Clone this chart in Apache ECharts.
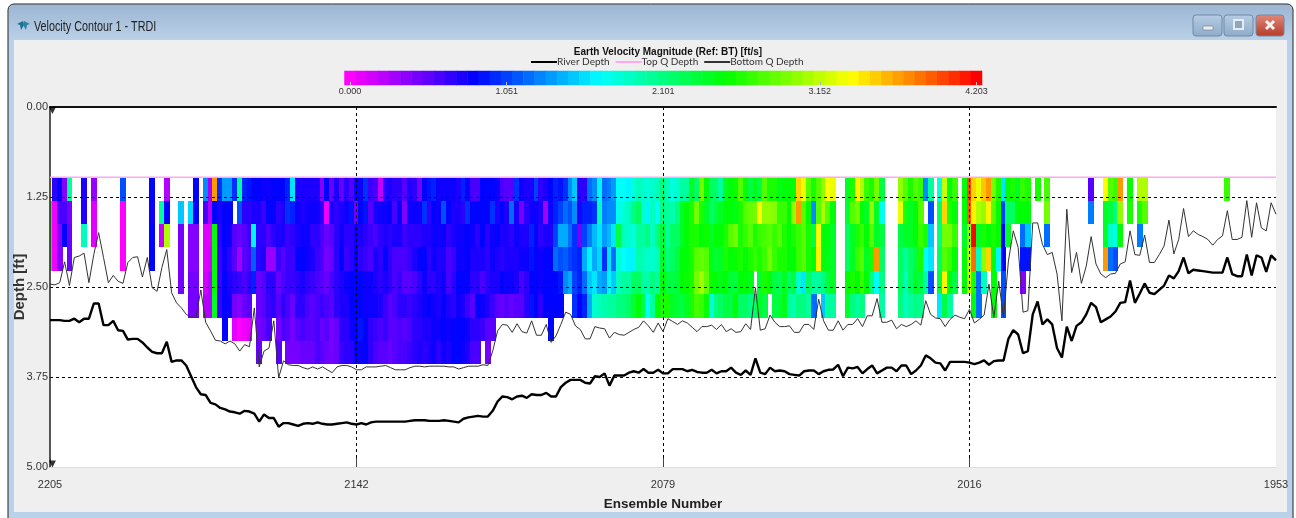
<!DOCTYPE html>
<html><head><meta charset="utf-8">
<style>html,body{margin:0;padding:0;background:#fff}#c{width:1296px;height:518px}</style>
<script src="https://cdn.jsdelivr.net/npm/echarts@6/dist/echarts.min.js"></script>
</head><body><div id="c"></div>
<script>
const n = null;
const startEnsemble = 2205;
const depthTicks = ['0.00','1.25','2.50','3.75','5.00'];
const ensembleTicks = [2205,2142,2079,2016];
const binTops = [0.975,1.3,1.625,1.95,2.275,2.6,2.925,3.25];
const binHeight = 0.325;
const topQ = [0.975,0.975];

const row0 = [3.36,.7,.85,.4,2,n,n,.75,n,.35,n,n,n,n,n,1.1,n,n,n,n,n,.85,n,n,.25,n,n,n,n,n,.85,n,1.3,.3,3.7,1,1.35,1.35,1,2,.95,.9,.85,.85,.8,.8,.85,.85,.85,.95,1.6,
.75,.75,.75,.75,.75,.4,.85,.5,.75,.5,.7,.55,.8,.8,1,.65,.6,.2,.7,.75,.7,.7,.55,.75,.7,.45,.85,.9,.95,.8,.8,.8,.8,.75,.95,.85,.6,.6,.85,.85,.85,.8,.6,.55,.55,1,.8,.75,.75,1.05,
.7,.75,.85,.95,.9,1,1.3,1.5,.7,.7,1.2,1.3,1.65,1.2,1.25,1.35,1.7,1.7,1.65,1.8,1.9,1.85,1.8,1.85,1.9,2.1,1.9,1.8,1.85,2,2,2.4,2.2,2.9,2.5,2.2,2.2,2,2.4,2.5,2.55,2.8,2.55,2.3,2.45,2.3,2.8,2.6,2.6,2.45,2.5,
2.5,2.5,3.5,3.3,2.8,2.6,2.8,3,3.35,3.3,n,n,2.4,2.6,3.4,3.1,2.7,2.6,2.9,2.3,n,n,n,3,2.8,2.6,2.8,2.7,1.3,2,n,1.8,3.2,2.5,2.7,n,2.5,3.95,3.5,3.3,3.55,3.7,2.9,2.6,1.6,2.5,2.6,2.4,2.7,2.6,
n,2.6,n,2.75,n,n,n,n,n,n,n,n,.55,n,n,3.35,2.8,2.7,3.7,n,2.55,n,3.1,3.1,n,n,n,n,n,n,n,n,n,n,n,n,n,n,n,n,2.7];

const row1 = [2.5,.05,.6,.6,.45,n,n,.75,n,.1,n,n,n,n,n,0,n,n,n,n,n,.8,n,2,.85,n,n,1.5,n,1.55,.85,n,.6,.25,.85,.75,.85,.85,n,1.1,.7,.7,.75,.75,.65,.85,.85,.7,.75,1,.95,
.8,.75,.8,.8,.8,.7,.05,.75,.7,.75,.8,.9,.45,.85,.9,.55,.75,.8,.8,.85,.6,.85,.4,.8,.8,.8,1,.7,.85,.8,1.1,.85,.75,.75,.7,1,.85,.85,.85,.85,1,.75,.85,.75,1.2,.75,.45,.7,.8,.8,
.75,.3,.8,.95,1.05,1.2,1.1,1.3,.75,.95,.95,1,1.9,1.25,1.3,1.3,1.75,1.8,1.9,2.1,2.2,1.85,1.65,1.9,1.7,2.1,2,1.95,2.1,2.4,2.5,2.6,2.9,2.6,2.4,2.2,2.3,2.4,2.5,2.5,2.45,2.6,2.8,2.85,2.9,3.35,3,3,2.95,2.7,2.7,
2.5,3,3.7,2.8,2.5,1.3,2.8,3.1,2.8,2.5,n,n,2.35,2.8,2.9,2.5,2.4,3,2.4,1.7,n,n,n,3.3,2.6,2.4,2.5,2.8,n,1.1,n,2.2,3.5,2.6,2.5,n,2.5,3.9,3.4,3.1,3,3.4,2.8,2.5,1.05,2.2,2.2,2.5,2.5,2.5,
n,n,n,2.9,n,n,n,n,n,n,n,n,1.25,n,n,2.4,2.3,2.1,3,n,2.6,n,2.6,2.8];

const row2 = [2.5,.05,.4,.85,.5,n,n,1.9,n,.1,n,n,n,n,n,0,n,n,n,n,n,.85,n,.2,3.1,n,n,.45,n,.4,.4,n,.1,.1,2.5,.7,.85,.8,.55,.5,.55,.65,1.65,.7,.7,.6,.7,.75,.75,.65,.7,
.75,.8,.8,.7,.7,.6,.5,.55,.7,.8,.7,.7,.8,.75,.7,.65,.6,.7,.75,.7,.75,.75,.65,.7,.7,.7,.75,.75,.8,.8,.8,.7,.75,.8,.8,.85,.8,.7,.85,.7,.8,.85,.75,.75,.7,.8,.75,.75,.95,.85,
.7,.75,.75,1.05,1.4,1.4,1.2,1,.45,1.05,1.25,1.45,1.6,1.35,1.45,1.6,2.3,1.9,1.85,1.8,2,2,2.1,1.9,2.1,2.35,2,2.2,2.2,2.4,2.5,2.6,2.6,2.5,2.55,2.4,2.5,2.5,2.6,2.8,2.9,2.6,2.7,2.8,2.6,2.7,2.75,2.8,2.7,2.8,2.6,
2.5,2.6,2.7,2.8,2.6,2.3,3.35,2.5,2.5,2.4,n,n,2.2,2.4,2.6,2.7,2.5,2.8,2.4,2.3,n,n,n,2.3,2.4,2.4,2.5,2.7,2.6,1.5,n,2.1,2.9,2.9,2.7,n,2.4,3,4.2,2.4,2.6,2.5,2.6,2.5,.85,2.4,n,n,1.2,1.5,
n,n,n,1.2,n,n,n,n,n,n,n,n,n,n,n,2.4,1.85,1.75,2.5,n,n,n,1.25];

const row3 = [2.5,.05,.4,n,.5,n,n,n,n,n,n,n,n,n,n,0,n,n,n,n,n,.85,n,n,n,n,n,.45,n,.4,.4,n,.1,.15,2.5,.65,.8,.7,.55,.3,.55,.6,1.15,.7,.75,.35,.35,.65,.55,.65,.65,
.85,.85,.8,.75,.65,.6,.45,.5,.7,.85,.65,.7,.85,.7,.65,.6,.75,.7,.85,.7,.6,.6,.6,.65,.75,.85,.85,.7,.8,.75,.75,.6,.65,.8,.8,.85,.75,.75,.75,.7,.8,.75,.7,.75,.75,.75,.8,.8,.9,.85,
.8,.85,.85,1.2,1.1,1.15,1.05,1,.95,1.4,1.65,1.4,1.55,1,1.6,1.2,1.8,1.7,1.65,1.65,1.95,1.9,1.85,1.85,1.9,2.4,2.1,2.2,2.3,2.5,2.5,2.6,2.8,2.85,2.8,2.45,2.35,2.4,2.6,2.5,2.55,2.6,2.5,2.6,2.7,2.6,2.7,2.9,2.7,2.6,2.6,
2.5,2.5,2.7,2.8,2.6,2.5,3.4,2.5,2.45,2.4,n,n,2.2,2.4,2.7,2.8,2.4,2.6,3.7,2.2,n,n,n,2.2,2,2.2,2.3,2.6,1.7,1.6,n,2.2,2.8,2.7,2.5,n,2.5,3.2,3.85,1.9,3,3.5,2.5,1.65,.85,n,n,n,.9,.9,
n,n,n,n,n,n,n,n,n,n,n,n,n,n,n,3.7,1.2,1.1];

const row4 = [n,n,n,n,n,n,n,n,n,n,n,n,n,n,n,n,n,n,n,n,n,n,n,n,n,n,n,.45,n,.45,.45,n,.15,.25,2.5,.65,.85,.75,.7,.65,.6,.7,.95,.5,.55,.7,.7,.5,.6,.65,.65,
.7,.75,.7,.65,.6,.55,.5,.6,.7,.75,.8,.85,.85,.85,.8,.8,.75,.7,.75,.7,.6,.65,.55,.55,.6,.7,.8,.7,.7,.75,.8,.6,.7,.85,.85,.85,.7,.7,.6,.7,.75,.75,.85,.8,.8,.75,.6,.7,.85,.85,
.8,.85,.85,.85,.9,1.3,1.4,1.05,.95,1.2,1.5,1.6,1.4,1.35,1.65,1.5,1.9,2,2,2.2,2.2,2,1.95,2.1,2,2.5,2.3,2.3,2.35,2.5,2.55,2.6,2.9,3.05,2.85,2.55,2.5,2.45,2.5,2.35,2.3,2.5,2.5,2.45,n,2.35,2.6,2.55,2.3,2.25,2.4,
2.2,2.3,1.85,1.6,2.2,2,2,2.1,2.3,2.4,n,n,2.5,2.6,2.5,2.7,2.5,2.1,1.7,2.1,n,n,n,2.2,1.9,2.2,2.4,2.3,2,1.1,n,2.3,3.4,2.5,2.3,n,2.5,3.2,2.6,1.2,1.9,n,2.5,n,1.1,n,n,n,.4];

const row5 = [n,n,n,n,n,n,n,n,n,n,n,n,n,n,n,n,n,n,n,n,n,n,n,n,n,n,n,n,n,.45,.45,n,.25,.25,2.4,.65,.85,.8,.45,.4,.5,.55,n,.5,.55,.65,.7,.55,.7,.6,.5,
.7,.7,.6,.55,.6,.65,.6,.55,.7,.75,.75,.85,.85,.85,.8,.8,.8,.75,.65,.55,.6,.7,.7,.65,.7,.75,.8,.85,.8,.75,.85,.75,.7,.8,.75,.65,.55,.85,.8,.75,.65,.55,.5,.55,.5,.55,.55,.7,.9,.85,
.7,.85,.85,.85,.85,n,n,1,.85,.95,1.4,1.85,1.9,1.95,2,2,2.1,2.1,2.2,2.35,2.5,2.3,1.7,2,2.5,2.6,2.6,2.4,2.35,2.3,2.4,2.6,2.75,2.7,2.55,1.8,2.1,2.2,2.3,2.3,2.5,2.2,2.2,2.1,2.2,2.4,2.3,n,2.3,2.35,2.45,
2,1.95,2.1,2.1,2,1.2,n,1.5,2,2,n,n,2.4,2.1,2,2.1,n,n,n,2,n,n,n,2.1,1.9,2,2.1,2.05,n,n,n,1.6,2.3,2,n,n,n,n,2.5,1.2,n,n,2.5,n,1.1];

const row6 = [n,n,n,n,n,n,n,n,n,n,n,n,n,n,n,n,n,n,n,n,n,n,n,n,n,n,n,n,n,n,n,n,n,n,n,n,.85,n,.1,0,.05,.1,n,.45,.5,.6,n,.45,.6,.55,.45,
.55,.6,.55,.55,.6,.5,.55,.45,.5,.7,.7,.8,.85,.9,.85,.7,.65,.6,.65,.55,.55,.6,.55,.6,.7,.7,.75,.75,.8,.8,.85,.8,.85,.85,.85,.8,.7,.7,.65,.55,.55,
n,n,n,n,n,n,n,n,n,n,n,.85];

const row7 = [n,n,n,n,n,n,n,n,n,n,n,n,n,n,n,n,n,n,n,n,n,n,n,n,n,n,n,n,n,n,n,n,n,n,n,n,n,n,n,n,n,n,n,.5,n,n,n,.55,n,.45,.45,
.45,.5,.5,.5,.6,.55,.5,.45,.5,.65,.7,.7,.85,.8,.85,.7,.6,.55,.55,.5,.55,.6,.6,.65,.7,.75,.7,.75,.8,.7,.8,.75,.85,.85,.8,.75,.6,.6,n,.45];

const bottomQ = [2.46,2.47,2.44,2.15,2.48,2.09,2.07,2.03,2.44,2.05,1.745,2.09,2.44,2.34,2.42,2.45,2.16,2.09,2.08,2.36,2.09,2.51,2.56,2.23,1.98,2.58,2.72,2.79,2.88,2.92,2.92,2.54,2.99,3.11,3.24,3.25,3.29,3.25,3.29,3.39,3.30,3.33,2.79,3.61,3.39,3.35,2.97,3.76,3.525,3.58,3.59,
3.59,3.62,3.64,3.61,3.64,3.61,3.65,3.69,3.61,3.59,3.59,3.61,3.65,3.65,3.61,3.61,3.61,3.6,3.59,3.62,3.65,3.65,3.65,3.62,3.6,3.6,3.61,3.6,3.6,3.6,3.6,3.61,3.61,3.64,3.62,3.6,3.6,3.6,3.58,3.59,3.39,3.11,3.02,3.03,3.13,3.01,3.12,3.14,2.97,3.17,
3.17,3.02,3.27,3.18,3.02,2.85,2.88,3.04,3.09,3.22,3.22,3.05,3.07,3.08,3.21,3.13,3.16,3.17,3.13,3.09,3.06,2.97,3.04,3.13,3.0,3.12,2.94,2.98,3.02,2.97,3.0,3.06,3.12,3.05,3.05,3.03,3.09,3.02,3.12,3.08,3.13,3.12,3.01,3.09,2.51,3.1,3.08,2.89,2.99,3.05,3.05,
3.04,3.13,3.13,3.02,3.02,3.09,2.67,2.97,3.1,3.1,2.97,3.1,3.02,3.02,2.94,3.05,2.9,2.9,2.66,2.99,2.99,2.96,3.08,3.02,3.05,3.02,2.97,3.03,2.69,2.88,2.93,2.94,3.05,2.95,2.89,2.92,2.94,2.81,3.0,2.95,2.89,2.46,2.92,2.42,2.92,2.14,1.72,1.95,2.85,2.83,
1.61,1.61,1.91,2.05,2.02,2.32,2.97,1.42,2.3,2.02,2.45,2.21,1.8,2.18,2.32,2.37,2.32,2.31,2.18,2.15,1.72,2.05,2.06,1.78,2.16,2.16,2.05,1.93,1.57,2.04,1.84,1.41,1.8,1.72,1.77,1.8,1.84,1.92,1.84,1.79,1.44,1.84,1.84,1.81,1.3,1.81,1.33,1.68,1.72,1.33,1.49];

const riverDepth = [2.96,2.96,2.96,2.97,2.97,2.94,2.99,2.94,2.94,2.73,2.73,3.03,3.03,2.97,3.1,3.11,3.23,3.22,3.22,3.27,3.34,3.4,3.42,3.42,3.26,3.54,3.52,3.52,3.59,3.74,3.89,3.99,4.0,4.11,4.13,4.18,4.2,4.23,4.24,4.26,4.22,4.23,4.26,4.37,4.27,4.32,4.32,4.44,4.39,4.39,4.41,
4.43,4.4,4.39,4.4,4.38,4.4,4.41,4.41,4.4,4.39,4.38,4.4,4.41,4.39,4.41,4.38,4.37,4.37,4.37,4.37,4.37,4.37,4.37,4.36,4.35,4.35,4.35,4.36,4.36,4.36,4.35,4.36,4.37,4.38,4.33,4.31,4.3,4.29,4.3,4.3,4.22,4.09,4.02,4.03,4.06,4.02,4.01,4.04,3.99,4.0,
4.0,3.97,4.02,4.02,3.89,3.83,3.79,3.79,3.79,3.83,3.84,3.74,3.75,3.7,3.87,3.73,3.73,3.73,3.69,3.67,3.69,3.64,3.69,3.69,3.65,3.7,3.7,3.64,3.64,3.64,3.67,3.65,3.68,3.69,3.69,3.65,3.7,3.67,3.67,3.62,3.69,3.72,3.66,3.72,3.49,3.69,3.71,3.62,3.67,3.66,3.67,
3.71,3.72,3.73,3.67,3.66,3.66,3.71,3.67,3.65,3.645,3.58,3.74,3.62,3.63,3.61,3.7,3.64,3.59,3.7,3.66,3.62,3.62,3.67,3.59,3.59,3.71,3.66,3.59,3.45,3.49,3.55,3.56,3.66,3.54,3.54,3.54,3.54,3.55,3.57,3.55,3.52,3.58,3.53,3.52,3.52,3.22,3.1,3.16,3.42,3.39,
2.88,2.7,3.02,2.95,3.02,3.35,3.48,3.05,3.25,3.04,2.99,2.88,2.72,2.78,2.99,2.95,2.91,2.84,2.72,2.71,2.41,2.72,2.59,2.45,2.58,2.6,2.54,2.48,2.34,2.38,2.28,2.09,2.31,2.26,2.27,2.28,2.29,2.3,2.3,2.3,2.09,2.32,2.35,2.35,2.05,2.34,2.06,2.09,2.29,2.06,2.13];

const scaleLabels = ['0.000','0.075','0.150','0.225','0.300','0.375','0.450','0.525','0.600','0.676','0.751','0.826','0.901','0.976','1.051','1.126','1.201','1.276','1.351','1.426','1.501','1.576','1.651','1.726','1.801','1.876','1.951','2.026','2.101','2.177','2.252','2.327','2.402','2.477','2.552','2.627','2.702','2.777','2.852','2.927','3.002','3.077','3.152','3.227','3.302','3.377','3.452','3.527','3.602','3.677','3.753','3.828','3.903','3.978','4.053','4.128','4.203'];

const colorStops = ['#ff00ff','#0000ff','#00ffff','#00ff00','#ffff00','#ff0000'];
const rows = [row0,row1,row2,row3,row4,row5,row6,row7];
const FONT = '"Liberation Sans",Arial,sans-serif';
const SOFT = 'Lato,"Liberation Sans",sans-serif';

const cells = [];
rows.forEach((row, r) => row.forEach((v, c) => { if (v !== null) cells.push([startEnsemble - c, binTops[r], v]); }));
const toPairs = arr => arr.map((d, c) => [startEnsemble - c, d]);

const cellRender = (params, api) => {
  const a = api.coord([api.value(0) + 0.5, api.value(1)]);
  const b = api.coord([api.value(0) - 0.5, api.value(1) + binHeight]);
  const x0 = Math.floor(a[0]), x1 = Math.ceil(b[0]), y0 = Math.round(a[1]), y1 = Math.round(b[1]);
  const shape = echarts.graphic.clipRectByRect(
    {x: x0, y: y0, width: x1 - x0, height: y1 - y0},
    {x: params.coordSys.x, y: params.coordSys.y, width: params.coordSys.width, height: params.coordSys.height});
  return shape && {type: 'rect', shape, style: {fill: api.visual('color')}};
};

const lg = (c0, c1) => ({type:'linear',x:0,y:0,x2:0,y2:1,colorStops:[{offset:0,color:c0},{offset:1,color:c1}]});
const btn = (x, w, fill) => ({type:'rect',shape:{x,y:15,width:w,height:21,r:3},style:{fill,stroke:'#6f8aa8',lineWidth:1}});
const chrome = [
  {type:'rect',shape:{x:8,y:4,width:1285,height:520,r:[6,6,0,0]},style:{fill:'#b9d2ea',stroke:'#222',lineWidth:1}},
  {type:'rect',shape:{x:9,y:5,width:1283,height:35,r:[5,5,0,0]},style:{fill:lg('#9db6d2','#b9d1e8')}},
  {type:'rect',shape:{x:14,y:40,width:1273,height:472},style:{fill:'#efefef'}},
  {type:'polygon',shape:{points:[[17,24],[23,21],[24,25],[21,30],[20,25]]},style:{fill:'#1f6f8b'}},
  {type:'polygon',shape:{points:[[30,24],[24,21],[23,25],[26,30],[27,25]]},style:{fill:'#2a83a0'}},
  {type:'text',x:34,y:27,scaleX:0.77,style:{text:'Velocity Contour 1 - TRDI',font:'14px '+FONT,fill:'#222',verticalAlign:'middle'}},
  btn(1193,29,lg('#b6cde4','#8fabc9')), btn(1224,29,lg('#b6cde4','#8fabc9')), btn(1256,28,lg('#e08a7c','#b53a28')),
  {type:'rect',shape:{x:1203,y:26,width:10,height:4,r:1},style:{fill:'#e8edf2',stroke:'#667',lineWidth:.5}},
  {type:'rect',shape:{x:1234,y:20,width:9,height:9},style:{fill:'#8fa6bf',stroke:'#e8edf2',lineWidth:2}},
  {type:'line',shape:{x1:1266,y1:21,x2:1274,y2:29},style:{stroke:'#f2f2f2',lineWidth:3}},
  {type:'line',shape:{x1:1274,y1:21,x2:1266,y2:29},style:{stroke:'#f2f2f2',lineWidth:3}}
].map(e => Object.assign(e, {z:-2, silent:true}));

const chart = echarts.init(document.getElementById('c'), null, {renderer:'canvas'});
chart.setOption({
  animation:false,
  backgroundColor:'#ffffff',
  textStyle:{fontFamily:FONT},
  graphic:{elements:chrome},
  title:{text:'Earth Velocity Magnitude (Ref: BT) [ft/s]',left:663,textAlign:'center',top:41,
    textStyle:{fontFamily:FONT,fontWeight:'bold',fontSize:10,color:'#111',lineHeight:12}},
  legend:{left:530,top:57,itemWidth:26,itemHeight:10,itemGap:5,padding:0,itemStyle:{opacity:0},
    data:['River Depth','Top Q Depth','Bottom Q Depth'],
    textStyle:{fontFamily:SOFT,fontSize:10,color:'#333',padding:[0,0,0,-5]}},
  visualMap:{show:false,type:'continuous',min:0,max:4.203,dimension:2,seriesIndex:[0,4],inRange:{color:colorStops}},
  grid:[
    {left:50,top:107,width:1226,height:360,show:true,backgroundColor:'#ffffff',borderWidth:0,outerBoundsMode:'none'},
    {left:344.5,top:71,width:637.5,height:14,show:false,outerBoundsMode:'none'}
  ],
  xAxis:[
    {type:'value',gridIndex:0,min:1953,max:2205,interval:63,inverse:true,position:'bottom',z:4,
      name:'Ensemble Number',nameLocation:'middle',nameGap:30,
      nameTextStyle:{fontFamily:FONT,fontWeight:'bold',fontSize:13.5,color:'#222'},
      axisLine:{onZero:false,lineStyle:{color:'#dddddd',width:1}},
      axisTick:{show:true,inside:true,length:9,customValues:ensembleTicks,lineStyle:{color:'#444'}},
      axisLabel:{fontFamily:FONT,fontSize:11,color:'#333',margin:12,formatter:(v)=>String(v)},
      splitLine:{show:true,showMinLine:false,showMaxLine:true,lineStyle:{color:'#000',type:[3,3],width:1}}},
    {type:'value',gridIndex:0,min:1953,max:2205,interval:63,inverse:true,position:'top',z:4,
      axisLine:{onZero:false,lineStyle:{color:'#111',width:2}},axisTick:{show:false},axisLabel:{show:false},splitLine:{show:false}},
    {type:'category',gridIndex:1,data:scaleLabels,z:4,
      axisLine:{show:false},
      axisTick:{show:true,inside:true,length:3,interval:13,alignWithLabel:true,lineStyle:{color:'#bbbbbb'}},
      axisLabel:{interval:13,fontFamily:FONT,fontSize:9,color:'#333',margin:2,hideOverlap:false},
      splitLine:{show:false}}
  ],
  yAxis:[
    {type:'value',gridIndex:0,min:0,max:5,interval:1.25,inverse:true,position:'left',z:4,
      name:'Depth [ft]',nameLocation:'middle',nameGap:23,nameRotate:90,nameMoveOverlap:false,
      nameTextStyle:{fontFamily:FONT,fontWeight:'bold',fontSize:15,color:'#333'},
      axisLine:{onZero:false,show:true,lineStyle:{color:'#222',width:1.5}},axisTick:{show:false},
      axisLabel:{fontFamily:FONT,fontSize:11,color:'#333',margin:2,formatter:(v)=>depthTicks[Math.round(v/1.25)]},
      splitLine:{show:true,showMinLine:false,showMaxLine:false,lineStyle:{color:'#000',type:[3,3],width:1}}},
    {type:'category',gridIndex:1,data:['scale'],show:false}
  ],
  series:[
    {name:'Velocity',type:'custom',xAxisIndex:0,yAxisIndex:0,data:cells,renderItem:cellRender,
      encode:{x:0,y:1},silent:true,progressive:0,z:2},
    {name:'River Depth',type:'line',xAxisIndex:0,yAxisIndex:0,data:toPairs(riverDepth),showSymbol:false,symbol:'none',silent:true,z:5,
      lineStyle:{color:'#000',width:2.4},itemStyle:{color:'#000'}},
    {name:'Top Q Depth',type:'line',xAxisIndex:0,yAxisIndex:0,data:[[2205,topQ[0]],[1953,topQ[1]]],showSymbol:false,symbol:'none',silent:true,z:5,
      lineStyle:{color:'#ffa8f0',width:1.5},itemStyle:{color:'#ffa8f0'}},
    {name:'Bottom Q Depth',type:'line',xAxisIndex:0,yAxisIndex:0,data:toPairs(bottomQ),showSymbol:false,symbol:'none',silent:true,z:5,
      lineStyle:{color:'#333',width:1},itemStyle:{color:'#333'}},
    {name:'Scale',type:'heatmap',xAxisIndex:2,yAxisIndex:1,data:scaleLabels.map((s,i)=>[i,0,parseFloat(s)]),silent:true,progressive:0,z:2},
    {name:'Depth markers',type:'scatter',xAxisIndex:0,yAxisIndex:0,data:[[2204.5,0.05],[2204.5,4.96]],symbol:'triangle',symbolSize:7,symbolRotate:180,silent:true,z:6,
      itemStyle:{color:'#000'}}
  ]
});
</script></body></html>
